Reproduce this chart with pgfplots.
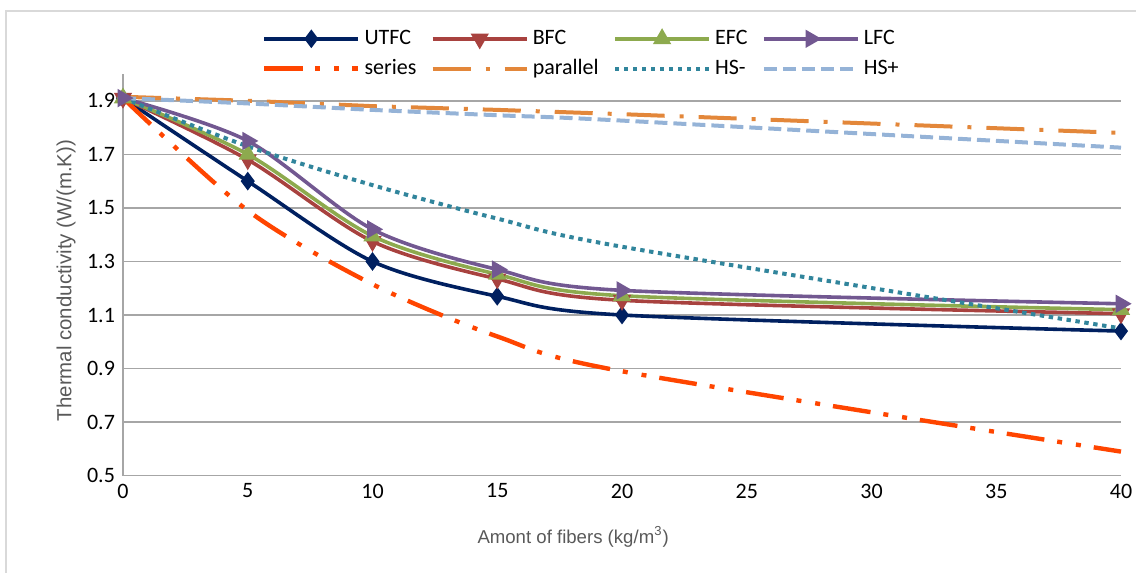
\documentclass[border=0pt]{standalone}
\usepackage{pgfplots}
\pgfplotsset{compat=1.18}
\usepackage{pgfplotstable}
\usepackage{fontspec}
\setmainfont{Carlito}
\newfontfamily\arialfont{Liberation Sans}
\definecolor{cU}{HTML}{002060}
\definecolor{cB}{HTML}{A8423F}
\definecolor{cE}{HTML}{8DAA4E}
\definecolor{cL}{HTML}{725891}
\definecolor{cS}{HTML}{FF4500}
\definecolor{cP}{HTML}{E3873A}
\definecolor{cHm}{HTML}{31859C}
\definecolor{cHp}{HTML}{95B3D7}
\definecolor{gridc}{HTML}{A6A6A6}
\definecolor{labc}{HTML}{595959}
\pgfplotstableread{
x UTFC BFC EFC LFC series parallel HSm HSp
0 1.91 1.91 1.91 1.91 1.91 1.915 1.91 1.91
5 1.60 1.68 1.70 1.75 1.49 1.90 1.73 1.89
10 1.30 1.375 1.395 1.42 1.215 1.88 1.585 1.866
15 1.17 1.235 1.252 1.27 1.02 1.866 1.46 1.846
20 1.10 1.155 1.172 1.192 0.89 1.85 1.355 1.826
40 1.04 1.105 1.12 1.142 0.59 1.78 1.05 1.725
}\data
\begin{document}
\begin{tikzpicture}
\path[use as bounding box] (-61.5pt,-48.65pt) rectangle (506.5pt,237.85pt);
\draw[black!15, line width=0.8pt] (-58.5pt,-50pt) -- (-58.5pt,232.35pt) -- (508pt,232.35pt);
\begin{axis}[
  at={(0,0)}, anchor=south west,
  scale only axis, width=499pt, height=200.85pt,
  xmin=0, xmax=40, ymin=0.5, ymax=2.0,
  xtick={0,5,10,15,20,25,30,35,40},
  ytick={0.5,0.7,0.9,1.1,1.3,1.5,1.7,1.9},
  yticklabel style={/pgf/number format/fixed, /pgf/number format/fixed zerofill, /pgf/number format/precision=1},
  /pgf/number format/assume math mode=true,
  ticklabel style={font=\fontsize{11}{13}\selectfont, text=black},
  xticklabel style={yshift=-0.5pt},
  yticklabel style={xshift=-0.5pt},
  major tick length=0pt,
  axis lines*=left,
  axis line style={draw=gridc, line width=0.8pt, -},
  ymajorgrids, grid style={draw=gridc, line width=0.8pt},
  clip=false,
  xlabel={\arialfont Amont of fibers (kg/m\textsuperscript{3})},
  ylabel={\arialfont Thermal conductivity (W/(m.K))},
  xlabel style={font=\fontsize{9.3}{11}\selectfont, text=labc, at={(rel axis cs:0.451,-0.153)}, anchor=center},
  ylabel style={font=\fontsize{10.2}{12}\selectfont, text=labc, at={(rel axis cs:-0.057,0.486)}, anchor=center},
  legend columns=4,
  legend style={draw=none, fill=none, at={(rel axis cs:0.133,1.13)}, anchor=north west,
    font=\fontsize{11}{13}\selectfont, row sep=2pt,
    /tikz/every even column/.append style={column sep=5.2pt}},
  legend cell align=left,
  legend image code/.code={\draw[mark repeat=2,mark phase=2] plot coordinates {(0pt,0pt) (23.5pt,0pt) (47pt,0pt)};},
]
\addplot[cU, line width=1.8pt, smooth, tension=0.5, mark=diamond*, mark size=3.2pt, mark options={solid}] table[x=x,y=UTFC]{\data};
\addlegendentry{UTFC}
\addplot[cB, line width=1.8pt, smooth, tension=0.5, mark=triangle*, mark size=3.5pt, mark options={solid, rotate=180}] table[x=x,y=BFC]{\data};
\addlegendentry{BFC}
\addplot[cE, line width=1.8pt, smooth, tension=0.5, mark=triangle*, mark size=3.5pt, mark options={solid}] table[x=x,y=EFC]{\data};
\addlegendentry{EFC}
\addplot[cL, line width=1.8pt, smooth, tension=0.5, mark=triangle*, mark size=3.5pt, mark options={solid, rotate=-90}] table[x=x,y=LFC]{\data};
\addlegendentry{LFC}
\addplot[cS, line width=2.2pt, smooth, tension=0.5, dash pattern=on 19pt off 6.5pt on 2.5pt off 7pt on 2.5pt off 6.5pt] table[x=x,y=series]{\data};
\addlegendentry{series}
\addplot[cP, line width=2pt, dash pattern=on 19pt off 7.5pt on 2pt off 7.5pt] table[x=x,y=parallel]{\data};
\addlegendentry{parallel}
\addplot[cHm, line width=2pt, smooth, tension=0.5, dash pattern=on 2.2pt off 2.3pt] table[x=x,y=HSm]{\data};
\addlegendentry{HS-}
\addplot[cHp, line width=2pt, smooth, tension=0.5, dash pattern=on 6.5pt off 3pt] table[x=x,y=HSp]{\data};
\addlegendentry{HS+}
\end{axis}
\end{tikzpicture}
\end{document}
